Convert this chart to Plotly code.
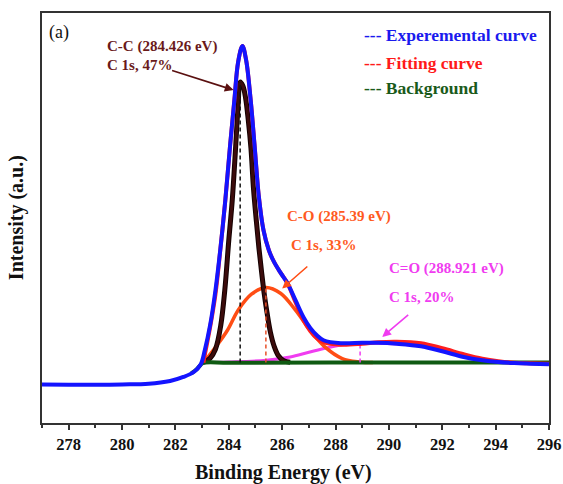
import plotly.graph_objects as go

# ---- C 1s XPS spectrum: binding energy (eV) and intensity (a.u.) ----
exp_energy = [277.0, 278.0, 279.0, 280.0, 281.0, 281.8, 282.3, 282.7, 282.95, 283.1,
              283.3, 283.5, 283.7, 283.87, 284.05, 284.21, 284.35, 284.51, 284.65, 284.82,
              284.98, 285.12, 285.3, 285.5, 285.7, 285.95, 286.2, 286.5, 286.8, 287.06,
              287.3, 287.55, 288.2, 289.0, 289.6, 290.3, 291.2, 292.0, 292.8, 293.5,
              294.1, 294.7, 295.3, 296.0]
exp_counts = [3840, 3820, 3820, 3850, 3920, 4200, 4600, 5120, 5870, 7270,
              9770, 13270, 17770, 22270, 27770, 32270, 36070, 37670, 36270, 32270,
              27270, 22770, 19270, 17270, 16070, 14970, 13970, 12270, 10570, 9470,
              8770, 8270, 7970, 8020, 8020, 7920, 7670, 7170, 6600, 6270,
              6090, 5990, 5930, 5870]

fit_energy = [283.05, 283.12, 283.3, 283.5, 283.7, 283.87, 284.05, 284.21, 284.35, 284.51,
              284.65, 284.82, 284.98, 285.12, 285.3, 285.5, 285.7, 285.95, 286.2, 286.5,
              286.8, 287.06, 287.3, 287.55, 288.2, 289.0, 289.6, 290.3, 291.2, 292.0,
              292.8, 293.5, 294.1, 294.7, 295.3, 296.0]
fit_counts = [6040, 7070, 9570, 12870, 17770, 22270, 27770, 32270, 36070, 37670,
              36270, 32270, 27270, 22770, 19270, 17270, 16070, 14970, 13970, 12070,
              10270, 9170, 8470, 8070, 7820, 7920, 8070, 8120, 7970, 7470,
              6870, 6420, 6170, 6020, 5970, 5920]

bg_energy = [282.6, 282.8, 282.95, 283.05, 284.0, 290.0, 296.0]
bg_counts = [4970, 5370, 5820, 6010, 6030, 6040, 6040]

# fitted components
cc_energy = [283.05, 283.3, 283.5, 283.7, 283.85, 284.0, 284.13, 284.25, 284.35, 284.426,
             284.53, 284.63, 284.73, 284.83, 284.93, 285.03, 285.13, 285.23, 285.33, 285.43,
             285.56, 285.7, 285.86, 286.06, 286.3]
cc_counts = [6040, 6470, 7370, 9770, 13270, 18270, 22270, 27270, 31770, 34070,
             33670, 32470, 30270, 27470, 23270, 20270, 17470, 15070, 12870, 11070,
             9070, 7670, 6720, 6220, 6070]

co_energy = [283.05, 283.12, 283.5, 283.95, 284.35, 284.85, 285.39, 285.95, 286.5, 287.05,
             287.6, 288.25, 288.9, 289.4]
co_counts = [6040, 6270, 7570, 9270, 11270, 12870, 13540, 12940, 11270, 9270,
             7600, 6440, 6100, 6040]

cdo_energy = [283.05, 284.0, 285.4, 286.3, 287.0, 287.7, 288.4, 288.921, 289.6, 290.5,
              291.3, 292.1, 292.8, 293.5, 294.2, 294.8]
cdo_counts = [6040, 6100, 6270, 6600, 7070, 7520, 7870, 8000, 7980, 7870,
              7620, 7170, 6720, 6320, 6100, 6040]

# peak positions, heights and shares
peak_names = ["C-C", "C-O", "C=O"]
peak_centers = [284.426, 285.39, 288.921]
peak_heights = [34070, 13540, 8000]
peak_shares = [47, 33, 20]
baseline_level = 6040

x_ticks = [278, 280, 282, 284, 286, 288, 290, 292, 294, 296]

SERIF = "Liberation Serif, Times New Roman, serif"
BLUE = "#1414ff"
RED = "#ff1e1e"
GREEN = "#0f5a12"
BROWN = "#3c0c0c"
ORANGE = "#ff4d14"
MAGENTA = "#f03cf0"

fig = go.Figure()

# components and background underneath the envelope
fig.add_trace(go.Scatter(x=cdo_energy, y=cdo_counts, mode="lines",
                         line=dict(color=MAGENTA, width=3, shape="spline")))
fig.add_trace(go.Scatter(x=co_energy, y=co_counts, mode="lines",
                         line=dict(color=ORANGE, width=3.5, shape="spline")))
fig.add_trace(go.Scatter(x=cc_energy, y=cc_counts, mode="lines",
                         line=dict(color="#140000", width=5, shape="spline")))
fig.add_trace(go.Scatter(x=cc_energy, y=cc_counts, mode="lines",
                         line=dict(color=BROWN, width=3, shape="spline")))
fig.add_trace(go.Scatter(x=bg_energy, y=bg_counts, mode="lines",
                         line=dict(color=GREEN, width=4, shape="spline")))

# dashed markers at peak positions
dash_colors = ["#111111", "#e8502a", MAGENTA]
for center, height, col in zip(peak_centers, peak_heights, dash_colors):
    fig.add_trace(go.Scatter(x=[center, center], y=[baseline_level, height], mode="lines",
                             line=dict(color=col, width=1.5, dash="4px,3px")))

# fitted envelope and measured spectrum
fig.add_trace(go.Scatter(x=fit_energy, y=fit_counts, mode="lines",
                         line=dict(color=RED, width=4, shape="spline")))
fig.add_trace(go.Scatter(x=exp_energy, y=exp_counts, mode="lines",
                         line=dict(color=BLUE, width=4, shape="spline")))

annotations = []


def label(x, y, text, color, size=15, bold=True):
    annotations.append(dict(x=x, y=y, xref="x", yref="y", text=f"<b>{text}</b>" if bold else text,
                            showarrow=False, xanchor="left", yanchor="middle",
                            font=dict(family=SERIF, size=size, color=color)))


def arrow(x0, y0, x1, y1, color):
    annotations.append(dict(x=x1, y=y1, ax=x0, ay=y0, xref="x", yref="y", axref="x", ayref="y",
                            text="", showarrow=True, arrowhead=2, arrowsize=1.1,
                            arrowwidth=1.6, arrowcolor=color, standoff=0))


label(277.2, 39070, "(a)", "#111111", size=18, bold=False)

# peak labels
cc_col, co_col, cdo_col = "#6a1a1a", "#ff5a1e", "#f03cf0"
label(279.37, 37600, f"{peak_names[0]} ({peak_centers[0]} eV)", cc_col)
label(279.37, 35770, f"C 1s, {peak_shares[0]}%", cc_col)
arrow(281.82, 35270, 284.18, 33270, "#5a1010")

label(286.12, 20600, f"{peak_names[1]} ({peak_centers[1]} eV)", co_col)
label(286.25, 17770, f"C 1s, {peak_shares[1]}%", co_col)
arrow(287.0, 15770, 286.0, 13440, ORANGE)

label(289.94, 15440, f"{peak_names[2]} ({peak_centers[2]} eV)", cdo_col)
label(289.94, 12600, f"C 1s, {peak_shares[2]}%", cdo_col)
arrow(290.78, 10940, 289.75, 8600, MAGENTA)

# key
label(288.98, 38770, "--- Experemental curve", "#1a1aee", size=17.5)
label(288.98, 35940, "--- Fitting curve", "#ff1a1a", size=17.5)
label(288.98, 33440, "--- Background", "#1a5a1a", size=17.5)

# axis titles
annotations.append(dict(x=0.477, y=-0.12, xref="paper", yref="paper", showarrow=False,
                        text="<b>Binding Energy (eV)</b>", xanchor="center", yanchor="middle",
                        font=dict(family=SERIF, size=20, color="#111111")))
annotations.append(dict(x=-0.051, y=0.5, xref="paper", yref="paper", showarrow=False,
                        text="<b>Intensity (a.u.)</b>", textangle=-90,
                        xanchor="center", yanchor="middle",
                        font=dict(family=SERIF, size=20, color="#111111")))

fig.update_layout(
    width=563, height=484,
    margin=dict(l=42, r=14, t=13, b=61, autoexpand=False),
    paper_bgcolor="white", plot_bgcolor="white",
    showlegend=False,
    annotations=annotations,
    font=dict(family=SERIF, color="#111111"),
)
fig.update_xaxes(
    range=[277, 296], tickvals=x_ticks, ticktext=[f"<b>{t}</b>" for t in x_ticks],
    ticks="outside", ticklen=5, tickwidth=1.5, automargin=False,
    tickcolor="#333333", showline=True, linecolor="#333333", linewidth=1.5, mirror=True,
    showgrid=False, zeroline=False,
    tickfont=dict(family=SERIF, size=16.5, color="#111111"),
    minor=dict(tickvals=[277, 279, 281, 283, 285, 287, 289, 291, 293, 295], ticks="outside",
               ticklen=3, tickwidth=1.5, tickcolor="#333333"),
)
fig.update_yaxes(
    range=[0, 40970], showticklabels=False, ticks="", showline=True, linecolor="#333333",
    linewidth=1.5, mirror=True, showgrid=False, zeroline=False, automargin=False,
)

fig.write_html("out.html")
